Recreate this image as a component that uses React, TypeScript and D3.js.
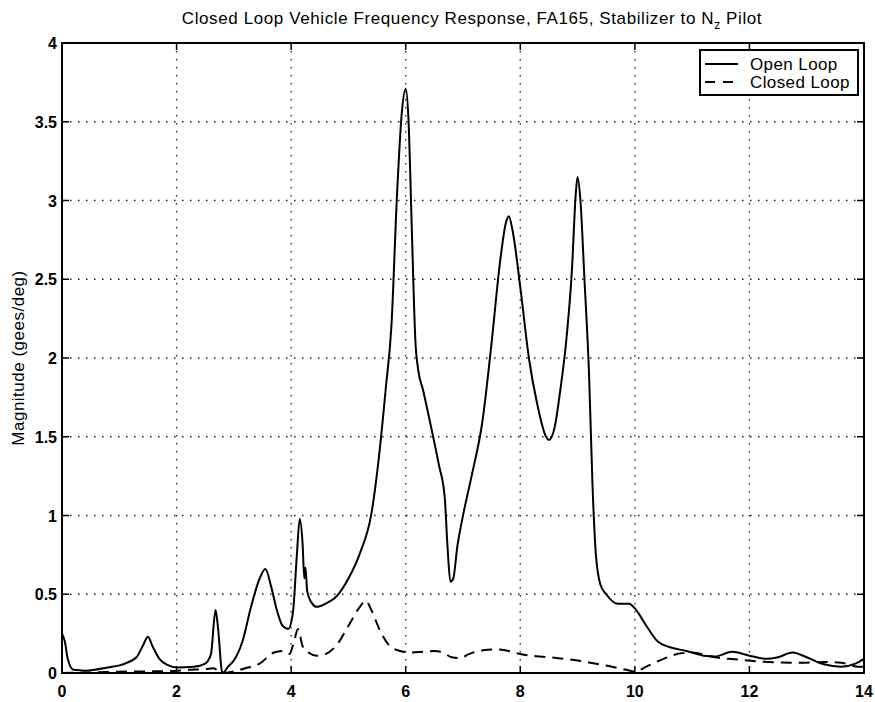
import React from "react";
import * as d3 from "d3";

const openX = [0, 0.05, 0.1, 0.2, 0.4, 0.8, 1.1, 1.3, 1.42, 1.5, 1.58, 1.7, 1.85, 2.0, 2.3, 2.5, 2.6, 2.68, 2.72, 2.8, 2.9, 3.0, 3.15, 3.3, 3.45, 3.55, 3.65, 3.75, 3.85, 3.95, 4.03, 4.1, 4.15, 4.2, 4.23, 4.25, 4.28, 4.35, 4.45, 4.6, 4.8, 5.0, 5.2, 5.4, 5.55, 5.65, 5.75, 5.85, 5.93, 6.0, 6.05, 6.1, 6.17, 6.22, 6.3, 6.45, 6.58, 6.68, 6.73, 6.78, 6.83, 6.9, 7.0, 7.15, 7.34, 7.5, 7.65, 7.75, 7.8, 7.87, 8.0, 8.15, 8.3, 8.45, 8.5, 8.6, 8.7, 8.8, 8.9, 8.97, 9.0, 9.05, 9.12, 9.2, 9.26, 9.32, 9.4, 9.5, 9.7, 9.9, 10.0, 10.2, 10.4, 10.6, 10.9, 11.2, 11.4, 11.7, 12.0, 12.3, 12.5, 12.75, 13.0, 13.3, 13.6, 13.85, 14.0];
const openY = [0.25, 0.2, 0.09, 0.02, 0.015, 0.035, 0.06, 0.1, 0.18, 0.23, 0.17, 0.09, 0.05, 0.035, 0.04, 0.06, 0.12, 0.4, 0.3, 0.0, 0.04, 0.08, 0.2, 0.42, 0.6, 0.66, 0.55, 0.4, 0.3, 0.28, 0.38, 0.75, 0.98, 0.82, 0.6, 0.67, 0.52, 0.45, 0.42, 0.44, 0.49, 0.6, 0.76, 1.01, 1.43, 1.8, 2.2, 3.05, 3.55, 3.71, 3.5, 2.9, 2.1, 1.92, 1.8, 1.55, 1.32, 1.12, 0.8, 0.58, 0.6, 0.8, 1.0, 1.25, 1.6, 2.1, 2.62, 2.86, 2.9, 2.8, 2.45, 2.0, 1.7, 1.5, 1.48, 1.56, 1.8, 2.1, 2.55, 3.05, 3.15, 3.0, 2.5, 1.9, 1.2, 0.75, 0.56, 0.5, 0.44, 0.44, 0.41, 0.3, 0.2, 0.165, 0.14, 0.11, 0.105, 0.135, 0.11, 0.09, 0.1, 0.13, 0.1, 0.055, 0.04, 0.06, 0.09];

const closedX = [0, 0.5, 1.0, 1.5, 1.9, 2.2, 2.5, 2.65, 2.72, 2.8, 3.0, 3.2, 3.45, 3.7, 3.85, 3.97, 4.05, 4.12, 4.2, 4.3, 4.45, 4.6, 4.8, 5.0, 5.2, 5.3, 5.4, 5.55, 5.7, 5.9, 6.1, 6.3, 6.5, 6.65, 6.8, 6.95, 7.1, 7.35, 7.55, 7.8, 8.0, 8.5, 9.0, 9.3, 9.6, 9.85, 10.0, 10.2, 10.5, 10.8, 11.0, 11.4, 11.8, 12.1, 12.5, 12.9, 13.3, 13.6, 13.9, 14.0];
const closedY = [0.0, 0.003, 0.008, 0.01, 0.012, 0.02, 0.025, 0.03, 0.015, 0.0, 0.01, 0.03, 0.06, 0.13, 0.14, 0.12, 0.2, 0.28, 0.17, 0.13, 0.11, 0.12, 0.18, 0.3, 0.42, 0.46, 0.4, 0.27, 0.18, 0.14, 0.13, 0.135, 0.14, 0.13, 0.1, 0.095, 0.12, 0.145, 0.15, 0.14, 0.12, 0.1, 0.08, 0.06, 0.04, 0.02, 0.01, 0.04, 0.09, 0.125, 0.13, 0.1, 0.085, 0.075, 0.068, 0.065, 0.07, 0.065, 0.04, 0.04];

const xTicks = [0, 2, 4, 6, 8, 10, 12, 14];
const yTicks = [0, 0.5, 1, 1.5, 2, 2.5, 3, 3.5, 4];
const legendLabels = ["Open Loop", "Closed Loop"];

const L = 62, R = 864, T = 43, B = 673;
const FONT = "'Liberation Sans', Arial, Helvetica, sans-serif";

export default function App() {
  const x = d3.scaleLinear().domain([0, 14]).range([L, R]);
  const y = d3.scaleLinear().domain([0, 4]).range([B, T]);
  const line = d3
    .line<[number, number]>()
    .x((d) => x(d[0]))
    .y((d) => y(d[1]))
    .curve(d3.curveMonotoneX);
  const openPts = openX.map((v, i) => [v, openY[i]] as [number, number]);
  const closedPts = closedX.map((v, i) => [v, closedY[i]] as [number, number]);
  const tickLen = 7;

  return (
    <svg
      width={875}
      height={702}
      style={{ position: "absolute", left: 0, top: 0, background: "#fff" }}
      fontFamily={FONT}
    >
      <rect x={0} y={0} width={875} height={702} fill="#fff" />
      {/* grid */}
      {xTicks.slice(1, -1).map((t) => (
        <line key={"gx" + t} x1={x(t)} x2={x(t)} y1={T} y2={B} stroke="#222" strokeWidth={1.3} strokeDasharray="1.5,6.5" />
      ))}
      {yTicks.slice(1, -1).map((t) => (
        <line key={"gy" + t} x1={L} x2={R} y1={y(t)} y2={y(t)} stroke="#222" strokeWidth={1.3} strokeDasharray="1.5,6.5" />
      ))}
      {/* ticks */}
      {xTicks.map((t) => (
        <g key={"tx" + t}>
          <line x1={x(t)} x2={x(t)} y1={B} y2={B - tickLen} stroke="#000" strokeWidth={1.5} />
          <line x1={x(t)} x2={x(t)} y1={T} y2={T + tickLen} stroke="#000" strokeWidth={1.5} />
          <text x={x(t)} y={B + 24} textAnchor="middle" fontSize={16} fontWeight="bold">
            {t}
          </text>
        </g>
      ))}
      {yTicks.map((t) => (
        <g key={"ty" + t}>
          <line x1={L} x2={L + tickLen} y1={y(t)} y2={y(t)} stroke="#000" strokeWidth={1.5} />
          <line x1={R} x2={R - tickLen} y1={y(t)} y2={y(t)} stroke="#000" strokeWidth={1.5} />
          <text x={L - 5} y={y(t) + 6} textAnchor="end" fontSize={16} fontWeight="bold">
            {t}
          </text>
        </g>
      ))}
      {/* data */}
      <path d={line(closedPts) || ""} fill="none" stroke="#000" strokeWidth={2} strokeDasharray="11,7" />
      <path d={line(openPts) || ""} fill="none" stroke="#000" strokeWidth={2} />
      {/* frame */}
      <rect x={L} y={T} width={R - L} height={B - T} fill="none" stroke="#000" strokeWidth={2} />
      {/* legend */}
      <rect x={700} y={50} width={158} height={45} fill="#fff" stroke="#000" strokeWidth={2} />
      <line x1={705} x2={738} y1={64} y2={64} stroke="#000" strokeWidth={2} />
      <line x1={705} x2={738} y1={82} y2={82} stroke="#000" strokeWidth={2} strokeDasharray="10,8" />
      <text x={750} y={70} fontSize={17} letterSpacing={0.4}>{legendLabels[0]}</text>
      <text x={750} y={88} fontSize={17} letterSpacing={0.4}>{legendLabels[1]}</text>
      {/* title */}
      <text x={472} y={24} textAnchor="middle" fontSize={17} letterSpacing={0.6}>
        Closed Loop Vehicle Frequency Response, FA165, Stabilizer to N
        <tspan dy={5} fontSize={12}>z</tspan>
        <tspan dy={-5}> Pilot</tspan>
      </text>
      {/* y label */}
      <text transform={`translate(24,${(T + B) / 2}) rotate(-90)`} textAnchor="middle" fontSize={17} letterSpacing={0.5}>
        Magnitude (gees/deg)
      </text>
    </svg>
  );
}
